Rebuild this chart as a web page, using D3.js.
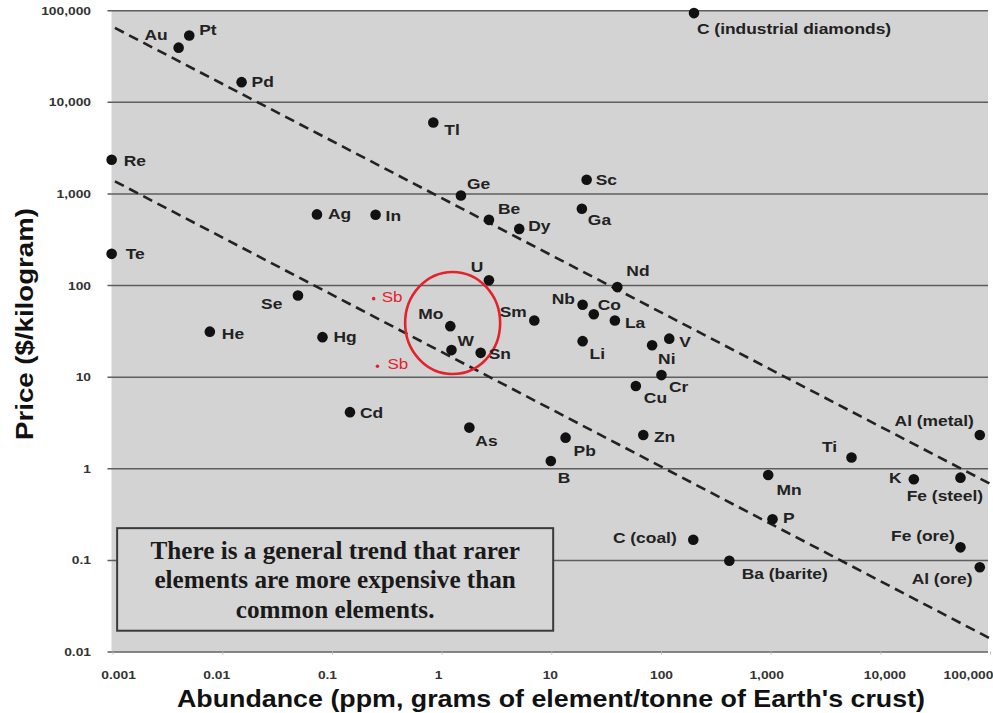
<!DOCTYPE html>
<html><head><meta charset="utf-8">
<script src="https://cdn.jsdelivr.net/npm/d3@7/dist/d3.min.js"></script>
<style>body{margin:0;background:#fff}svg{display:block}</style>
</head><body>
<svg id="chart" width="993" height="713"></svg>
<script>
// ---------- DATA ----------
const elements = ["Au","Pt","Pd","Re","Tl","Ge","Sc","Ag","In","Be","Dy","Ga","C (industrial diamonds)",
  "Te","Se","He","Hg","U","Mo","W","Sn","Sm","Nb","Co","La","Nd","Li","Cd","As","Pb","B","Cu","Zn",
  "Ni","V","Cr","Ti","Al (metal)","Mn","K","Fe (steel)","P","C (coal)","Ba (barite)","Fe (ore)","Al (ore)"];
const abundance = [0.004,0.005,0.015,0.00098,0.84,1.5,21,0.073,0.25,2.7,5.1,19,200,
  0.00098,0.049,0.0077,0.082,2.7,1.2,1.23,2.27,7,19.3,24.4,38,40,19.3,0.146,1.79,13.5,9.9,59,69,
  83,119,101,5460,80700,950,20200,53800,1040,197,420,53800,80700];
const price = [39000,53000,16400,2330,5950,950,1410,590,585,515,410,680,93000,
  219,77,31,27,113,35.6,19.5,18.2,41,61,48,41,95,24.4,4.1,2.78,2.16,1.2,7.9,2.31,
  22,26,10.4,1.31,2.31,0.845,0.76,0.79,0.278,0.166,0.098,0.137,0.083];
const sbLabels = ["Sb","Sb"];
const sbAbundance = [0.24,0.26];
const sbPrice = [71,13];
const xTickValues = [0.001,0.01,0.1,1,10,100,1000,10000,100000];
const xTickLabels = ["0.001","0.01","0.1","1","10","100","1,000","10,000","100,000"];
const yTickValues = [0.01,0.1,1,10,100,1000,10000,100000];
const yTickLabels = ["0.01","0.1","1","10","100","1,000","10,000","100,000"];
const upperTrendX = [0.00105,100000];
const upperTrendY = [64100,0.678];
const lowerTrendX = [0.00105,100000];
const lowerTrendY = [1355,0.0139];
const highlightCenter = [1.26,38.5];
const noteBoxX = [0.0011,10.4];
const noteBoxY = [0.222,0.01686];
const noteLines = ["There is a general trend that rarer","elements are more expensive than","common elements."];
const xTitle = "Abundance (ppm, grams of element/tonne of Earth's crust)";
const yTitle = "Price ($/kilogram)";

// ---------- LAYOUT / STYLE ----------
const plotL = 111.5, plotR = 988, plotT = 10.2, plotB = 651.5;
const x = d3.scaleLog().domain([0.001,100000]).range([112.6,990]);
const y = d3.scaleLog().domain([0.01,100000]).range([651.5,10.2]);
const SX = 1.2; // horizontal stretch of sans labels
const sans = "'Liberation Sans', Arial, Helvetica, sans-serif";

// label placement: [dx, dy, anchor]
const labelPos = {
 "Au":[-11,-7.7,"end"],"Pt":[10,0,"start"],"Pd":[10,5,"start"],"Re":[12,6,"start"],"Tl":[11,13,"start"],
 "Ge":[6,-6,"start"],"Sc":[9,5,"start"],"Ag":[11,5,"start"],"In":[10,6,"start"],"Be":[9,-6,"start"],
 "Dy":[9,2,"start"],"Ga":[6,16,"start"],"C (industrial diamonds)":[3,21,"start"],"Te":[14,5,"start"],
 "Se":[-15.6,14,"end"],"He":[12,7,"start"],"Hg":[11,5,"start"],"U":[-5.5,-8,"end"],"Mo":[-7,-6.7,"end"],
 "W":[6,-4,"start"],"Sn":[8,6,"start"],"Sm":[-7.6,-4,"end"],"Nb":[-7.7,-1,"end"],"Co":[4,-4.3,"start"],
 "La":[10,7.7,"start"],"Nd":[9,-10.6,"start"],"Li":[7,18,"start"],"Cd":[10,5.6,"start"],"As":[6,18,"start"],
 "Pb":[8,18,"start"],"B":[7,21.6,"start"],"Cu":[8,17,"start"],"Zn":[10.7,7,"start"],"Ni":[6,18.3,"start"],
 "V":[10,8.3,"start"],"Cr":[7.6,17,"start"],"Ti":[-14.4,-5.6,"end"],"Al (metal)":[-6,-8.7,"end"],
 "Mn":[8.4,20,"start"],"K":[-12.3,4,"end"],"Fe (steel)":[22.6,23.7,"end"],"P":[10.6,4,"start"],
 "C (coal)":[-16.6,3.3,"end"],"Ba (barite)":[12.4,18.3,"start"],"Fe (ore)":[-5.7,-6.3,"end"],"Al (ore)":[-7.3,16.7,"end"]
};
const sbPos = [[8,3],[10,3]];
const xTickNudge = [5.5,-6,-5,-3.5,-1.5,0,-4.5,4,-22];

const svg = d3.select("#chart");
svg.append("rect").attr("width",993).attr("height",713).attr("fill","#fff");

// plot background
svg.append("rect").attr("x",plotL).attr("y",plotT).attr("width",plotR-plotL).attr("height",plotB-plotT)
  .attr("fill","#d3d3d3");
svg.append("line").attr("x1",plotL).attr("x2",plotR).attr("y1",plotT+0.5).attr("y2",plotT+0.5)
  .attr("stroke","#c2c2c2").attr("stroke-width",1);

// y axis with gridlines
const yAxis = svg.append("g").attr("transform",`translate(107.5,0)`)
  .call(d3.axisLeft(y).tickValues(yTickValues).tickSize(-(plotR-107.5)).tickPadding(0)
    .tickFormat((d,i)=>yTickLabels[i]));
yAxis.select(".domain").remove();
yAxis.selectAll(".tick line").attr("stroke","#5e5e5e").attr("stroke-width",1.5);
yAxis.selectAll(".tick text").attr("x",0).attr("dy","0.35em")
  .attr("transform",`translate(-16.5,0) scale(${SX},1)`)
  .attr("font-family",sans).attr("font-weight","bold").attr("font-size",11.5).attr("fill","#333");

// x axis
const xAxis = svg.append("g").attr("transform",`translate(0,${plotB})`)
  .call(d3.axisBottom(x).tickValues(xTickValues).tickSize(3).tickFormat((d,i)=>xTickLabels[i]));
xAxis.select(".domain").remove();
xAxis.selectAll(".tick line").attr("stroke","#bbb");
xAxis.selectAll(".tick text").attr("y",0).attr("dy",0)
  .attr("transform",(d,i)=>`translate(${xTickNudge[i]},27.5) scale(${SX},1)`)
  .attr("font-family",sans).attr("font-weight","bold").attr("font-size",11.5).attr("fill","#333");

// trend lines
const line = d3.line().x(d=>x(d[0])).y(d=>y(d[1]));
[[upperTrendX,upperTrendY],[lowerTrendX,lowerTrendY]].forEach(([xs,ys])=>{
  svg.append("path").datum(xs.map((v,i)=>[v,ys[i]])).attr("d",line)
    .attr("fill","none").attr("stroke","#222").attr("stroke-width",2.6).attr("stroke-dasharray","10,6");
});

// note box
const bx0 = x(noteBoxX[0]), bx1 = x(noteBoxX[1]), by0 = y(noteBoxY[0]), by1 = y(noteBoxY[1]);
svg.append("rect").attr("x",bx0).attr("y",by0).attr("width",bx1-bx0).attr("height",by1-by0)
  .attr("fill","#d5d5d5").attr("stroke","#3a3a3a").attr("stroke-width",2);
const note = svg.append("text").attr("text-anchor","middle")
  .attr("font-family","'Liberation Serif','Times New Roman',serif").attr("font-weight","bold")
  .attr("font-size",25.2).attr("fill","#1a1a1a");
noteLines.forEach((t,i)=>{
  note.append("tspan").attr("x",(bx0+bx1)/2).attr("y",by0+31+i*29.2).text(t);
});

// red highlight circle
svg.append("ellipse").attr("cx",x(highlightCenter[0])).attr("cy",y(highlightCenter[1]))
  .attr("rx",47.5).attr("ry",51).attr("fill","none").attr("stroke","#e3222c").attr("stroke-width",2.6);

// points
const pts = elements.map((n,i)=>({n,a:abundance[i],p:price[i]}));
svg.append("g").selectAll("circle").data(pts).join("circle")
  .attr("cx",d=>x(d.a)).attr("cy",d=>y(d.p)).attr("r",5.3).attr("fill","#111");
svg.append("g").selectAll("text").data(pts).join("text")
  .attr("transform",d=>{const o=labelPos[d.n];return `translate(${x(d.a)+o[0]},${y(d.p)+o[1]}) scale(${SX},1)`;})
  .attr("text-anchor",d=>labelPos[d.n][2])
  .attr("font-family",sans).attr("font-weight","bold").attr("font-size",14.5).attr("fill","#222")
  .text(d=>d.n);

// Sb (red)
const sb = sbLabels.map((n,i)=>({n,a:sbAbundance[i],p:sbPrice[i],o:sbPos[i]}));
svg.append("g").selectAll("circle").data(sb).join("circle")
  .attr("cx",d=>x(d.a)).attr("cy",d=>y(d.p)).attr("r",1.8).attr("fill","#e3222c");
svg.append("g").selectAll("text").data(sb).join("text")
  .attr("transform",d=>`translate(${x(d.a)+d.o[0]},${y(d.p)+d.o[1]}) scale(1.1,1)`)
  .attr("font-family",sans).attr("font-size",15.5).attr("fill","#e3222c").text(d=>d.n);

// axis titles
svg.append("text").attr("x",551).attr("y",707).attr("text-anchor","middle")
  .attr("font-family",sans).attr("font-weight","bold").attr("font-size",24).attr("fill","#111")
  .attr("textLength",748).attr("lengthAdjust","spacingAndGlyphs").text(xTitle);
svg.append("text").attr("transform","translate(33,324) rotate(-90)").attr("text-anchor","middle")
  .attr("font-family",sans).attr("font-weight","bold").attr("font-size",24).attr("fill","#111")
  .attr("textLength",232).attr("lengthAdjust","spacingAndGlyphs").text(yTitle);
</script>
</body></html>
